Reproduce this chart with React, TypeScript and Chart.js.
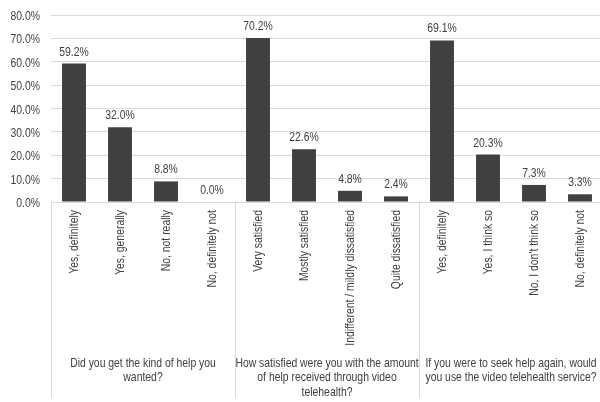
import React, { useEffect, useRef } from 'react';
import { Chart, registerables } from 'chart.js';

Chart.register(...registerables);

const categories = [
  'Yes, definitely', 'Yes, generally', 'No, not really', 'No, definitely not',
  'Very satisfied', 'Mostly satisfied', 'Indifferent / mildly dissatisfied', 'Quite dissatisfied',
  'Yes, definitely', 'Yes, I think so', "No, I don't think so", 'No, definitely not',
];
const values = [59.2, 32.0, 8.8, 0.0, 70.2, 22.6, 4.8, 2.4, 69.1, 20.3, 7.3, 3.3];
const groupSizes = [4, 4, 4];
const groupLabels = [
  ['Did you get the kind of help you', 'wanted?'],
  ['How satisfied were you with the amount', 'of help received through video', 'telehealth?'],
  ['If you were to seek help again, would', 'you use the video telehealth service?'],
];
const yMin = 0;
const yMax = 80;
const yStep = 10;

const FONT = "'Liberation Sans', Arial, sans-serif";
const FONT_SIZE = 13;
const NARROW = 0.8;
const TEXT = '#404040';
const GRID = '#d9d9d9';

function narrowText(
  ctx: CanvasRenderingContext2D,
  text: string,
  x: number,
  y: number,
  align: CanvasTextAlign,
  baseline: CanvasTextBaseline,
  rotate = 0,
) {
  ctx.save();
  ctx.translate(x, y);
  if (rotate) ctx.rotate(rotate);
  ctx.scale(NARROW, 1);
  ctx.textAlign = align;
  ctx.textBaseline = baseline;
  ctx.fillText(text, 0, 0);
  ctx.restore();
}

const overlay = {
  id: 'overlay',
  afterDatasetsDraw(chart: any) {
    const ctx: CanvasRenderingContext2D = chart.ctx;
    const area = chart.chartArea;
    const xs = chart.scales.x;
    const ys = chart.scales.y;
    const meta = chart.getDatasetMeta(0);
    ctx.save();
    ctx.font = `${FONT_SIZE}px ${FONT}`;
    ctx.fillStyle = TEXT;

    // y tick labels
    ys.ticks.forEach((t: any) => {
      const y = ys.getPixelForValue(t.value);
      narrowText(ctx, Number(t.value).toFixed(1) + '%', 40, y + 1.5, 'right', 'middle');
    });

    // data labels
    meta.data.forEach((bar: any, i: number) => {
      narrowText(ctx, values[i].toFixed(1) + '%', bar.x, bar.y - 8, 'center', 'alphabetic');
    });

    // rotated category labels
    categories.forEach((c, i) => {
      const x = xs.getPixelForValue(i);
      narrowText(ctx, c, x, area.bottom + 8, 'right', 'middle', -Math.PI / 2);
    });

    // separators
    const bottomY = 398;
    const pix = (i: number) => xs.getPixelForValue(i);
    const half = (pix(1) - pix(0)) / 2;
    const edges: number[] = [pix(0) - half];
    let start = 0;
    groupSizes.forEach((n) => {
      start += n;
      edges.push(pix(start - 1) + half);
    });
    ctx.strokeStyle = GRID;
    ctx.lineWidth = 1;
    edges.forEach((x) => {
      const xx = Math.round(x) + 0.5;
      ctx.beginPath();
      ctx.moveTo(xx, area.bottom);
      ctx.lineTo(xx, bottomY);
      ctx.stroke();
    });

    // group labels
    groupLabels.forEach((lines, g) => {
      const cx = (edges[g] + edges[g + 1]) / 2;
      lines.forEach((line, k) => {
        narrowText(ctx, line, cx, area.bottom + 164.5 + k * 14.5, 'center', 'alphabetic');
      });
    });
    ctx.restore();
  },
};

export default function App() {
  const ref = useRef<HTMLCanvasElement>(null);
  useEffect(() => {
    if (!ref.current) return;
    const chart = new Chart(ref.current, {
      type: 'bar',
      data: {
        labels: categories,
        datasets: [
          {
            data: values,
            backgroundColor: TEXT,
            borderWidth: 0,
            barPercentage: 0.52,
            categoryPercentage: 1,
          },
        ],
      },
      options: {
        responsive: false,
        animation: false,
        layout: { padding: { top: 15, right: 3, left: 0, bottom: 0 } },
        plugins: { legend: { display: false }, tooltip: { enabled: false } },
        scales: {
          x: {
            grid: { display: false },
            border: { display: false },
            ticks: { display: false, autoSkip: false },
            afterFit: (s: any) => {
              s.height = 200;
            },
          },
          y: {
            min: yMin,
            max: yMax,
            grid: { color: GRID, drawTicks: false },
            border: { display: false },
            ticks: { display: false, stepSize: yStep },
            afterFit: (s: any) => {
              s.width = 51;
            },
          },
        },
      },
      plugins: [overlay],
    });
    return () => chart.destroy();
  }, []);
  return (
    <div style={{ position: 'fixed', left: 0, top: 0, width: 600, height: 402, overflow: 'hidden', background: '#fff' }}>
      <canvas ref={ref} width={606} height={402} style={{ display: 'block' }} />
    </div>
  );
}
